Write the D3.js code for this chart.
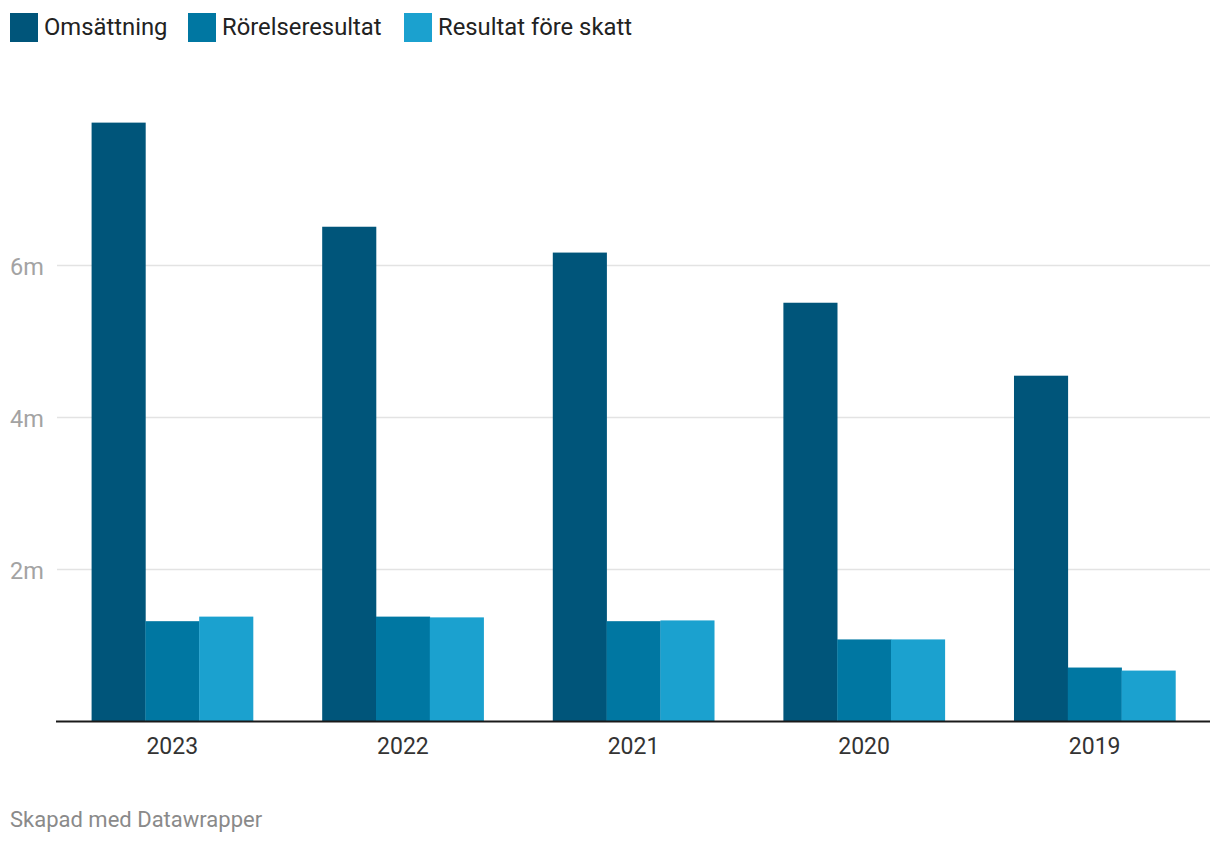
<!DOCTYPE html>
<html><head><meta charset="utf-8">
<script src="https://cdn.jsdelivr.net/npm/d3@7"></script>
<style>
body{margin:0;background:#fff;font-family:Roboto,"Noto Sans",sans-serif;}
</style></head>
<body>
<svg id="chart" width="1220" height="844"></svg>
<script>
const years = ["2023","2022","2021","2020","2019"];
const seriesNames = ["Omsättning","Rörelseresultat","Resultat före skatt"];
const omsattning = [7.88, 6.51, 6.17, 5.51, 4.55];
const rorelseresultat = [1.32, 1.38, 1.32, 1.08, 0.71];
const resultatForeSkatt = [1.38, 1.37, 1.33, 1.08, 0.67];
const yTicks = [2, 4, 6];
const colors = ["#00557a", "#0077a2", "#1ba1cf"];

const seriesValues = [omsattning, rorelseresultat, resultatForeSkatt];
const svg = d3.select("#chart");

const left = 57, right = 1210, baseY = 721.5, topY = 113.5;
const x0 = d3.scaleBand().domain(years).range([left, right]).paddingInner(0.3).paddingOuter(0.15);
const x1 = d3.scaleBand().domain(seriesNames).range([0, x0.bandwidth()]);
const y = d3.scaleLinear().domain([0, 8]).range([baseY, topY]);
const color = d3.scaleOrdinal().domain(seriesNames).range(colors);

// gridlines
const grid = svg.append("g");
grid.selectAll("line").data(yTicks).join("line")
  .attr("x1", left).attr("x2", right)
  .attr("y1", d => y(d)).attr("y2", d => y(d))
  .attr("stroke", "#e3e3e3").attr("stroke-width", 1.5);
grid.selectAll("text").data(yTicks).join("text")
  .attr("x", 10).attr("y", d => y(d) + 9.5)
  .attr("font-size", 23.5).attr("fill", "#a3a3a3")
  .text(d => d + "m");

// bars
const groups = svg.append("g").selectAll("g").data(years).join("g")
  .attr("transform", d => `translate(${x0(d)},0)`);
groups.selectAll("rect")
  .data((d, i) => seriesNames.map((s, j) => ({s, v: seriesValues[j][i]})))
  .join("rect")
  .attr("x", d => x1(d.s))
  .attr("width", x1.bandwidth() + 0.3)
  .attr("y", d => y(d.v))
  .attr("height", d => baseY - y(d.v))
  .attr("fill", d => color(d.s));

// baseline axis
svg.append("line").attr("x1", 56).attr("x2", right)
  .attr("y1", baseY).attr("y2", baseY)
  .attr("stroke", "#1a1a1a").attr("stroke-width", 2);

// x labels
const xAxis = d3.axisBottom(x0).tickSize(0).tickPadding(0);
const xg = svg.append("g").attr("transform", `translate(0,${baseY})`).call(xAxis);
xg.select(".domain").remove();
xg.selectAll("text").attr("font-family", "Roboto").attr("font-size", 23)
  .attr("fill", "#333").attr("dy", 0).attr("y", 32.5);

// legend
const legendX = [10, 188, 404];
const lg = svg.append("g").selectAll("g").data(seriesNames).join("g")
  .attr("transform", (d, i) => `translate(${legendX[i]},13)`);
lg.append("rect").attr("width", 28).attr("height", 29).attr("fill", d => color(d));
lg.append("text").attr("x", 34).attr("y", 22).attr("font-size", 23.8)
  .attr("fill", "#222").text(d => d);

// footer
svg.append("text").attr("x", 10).attr("y", 827).attr("font-size", 22)
  .attr("fill", "#8a8a8a").text("Skapad med Datawrapper");
</script>
</body></html>
